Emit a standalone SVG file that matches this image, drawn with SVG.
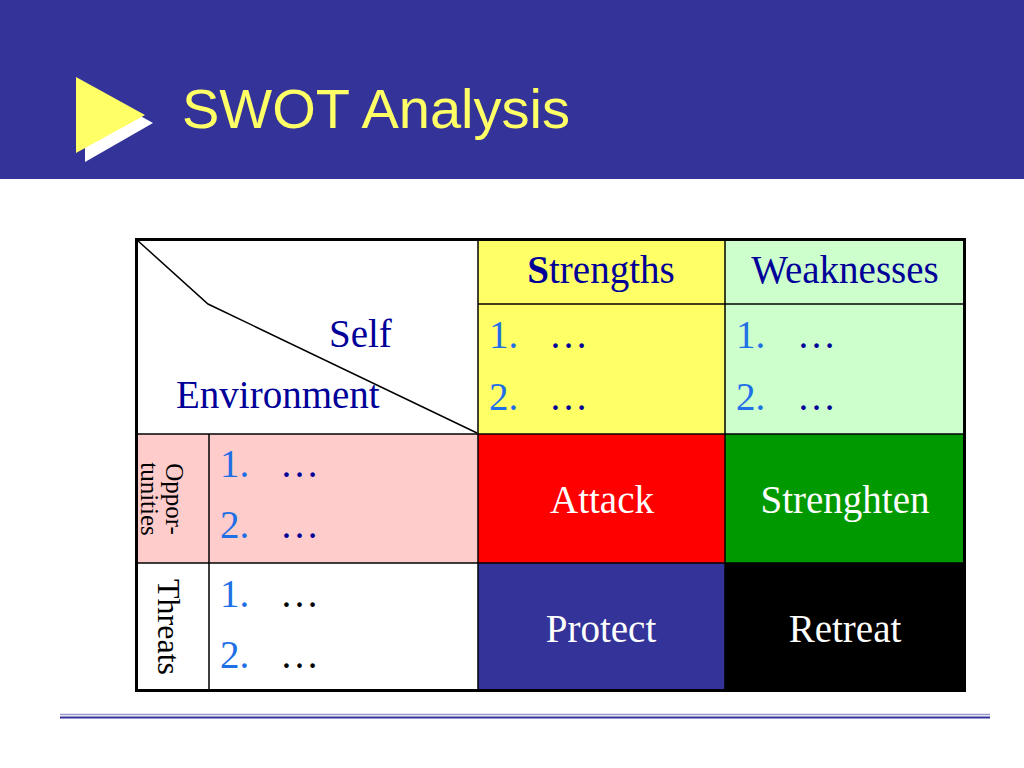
<svg xmlns="http://www.w3.org/2000/svg" width="1024" height="768" viewBox="0 0 1024 768">
<style>
.t{font-family:"Liberation Serif","Times New Roman",serif;font-size:39px;fill:#000099}
.w{font-family:"Liberation Serif","Times New Roman",serif;font-size:39px;fill:#ffffff;text-anchor:middle}
.n{fill:#1f6fe6}
.c{text-anchor:middle}
.ln{stroke:#000;stroke-width:1.5;fill:none}
</style>
<rect x="0" y="0" width="1024" height="768" fill="#ffffff"/>
<g id="header">
<rect x="0" y="0" width="1024" height="179" fill="#333399"/>
<polygon points="85,85 85,162 153,123" fill="#ffffff"/>
<polygon points="76,77 76,153 145,115" fill="#ffff66"/>
<text x="182" y="128" font-family="Liberation Sans, Arial, sans-serif" font-size="56" fill="#ffff66">SWOT Analysis</text>
</g>
<g id="cells">
<rect x="137" y="239" width="341" height="195" fill="#ffffff"/>
<rect x="478" y="239" width="247" height="195" fill="#ffff66"/>
<rect x="725" y="239" width="240" height="195" fill="#ccffcc"/>
<rect x="137" y="434" width="341" height="129" fill="#ffcccc"/>
<rect x="478" y="434" width="247" height="129" fill="#ff0000"/>
<rect x="725" y="434" width="240" height="129" fill="#009900"/>
<rect x="137" y="563" width="341" height="128" fill="#ffffff"/>
<rect x="478" y="563" width="247" height="128" fill="#333399"/>
<rect x="725" y="563" width="240" height="128" fill="#000000"/>
</g>
<g id="grid">
<line class="ln" x1="478" y1="239" x2="478" y2="691"/>
<line class="ln" x1="725" y1="239" x2="725" y2="691"/>
<line class="ln" x1="209" y1="434" x2="209" y2="691"/>
<line class="ln" x1="478" y1="304" x2="965" y2="304"/>
<line class="ln" x1="137" y1="434" x2="965" y2="434"/>
<line class="ln" x1="137" y1="563" x2="965" y2="563"/>
<polyline class="ln" points="137,240 208,304 477,433"/>
<rect x="136.5" y="239.5" width="828" height="451" fill="none" stroke="#000" stroke-width="3"/>
</g>
<g id="corner">
<text class="t" x="329" y="347">Self</text>
<text class="t" x="176" y="408">Environment</text>
</g>
<g id="strengths">
<text class="t c" x="601" y="283"><tspan font-weight="bold">S</tspan>trengths</text>
<text class="t" x="489" y="348"><tspan class="n">1.</tspan><tspan x="549">…</tspan></text>
<text class="t" x="489" y="410"><tspan class="n">2.</tspan><tspan x="549">…</tspan></text>
</g>
<g id="weaknesses">
<text class="t c" x="845" y="283">Weaknesses</text>
<text class="t" x="736" y="348"><tspan class="n">1.</tspan><tspan x="797">…</tspan></text>
<text class="t" x="736" y="410"><tspan class="n">2.</tspan><tspan x="797">…</tspan></text>
</g>
<g id="opportunities">
<text font-family="Liberation Serif, Times New Roman, serif" font-size="25" fill="#000" text-anchor="middle" transform="translate(166,499) rotate(90)"><tspan x="0" y="0">Oppor-</tspan><tspan x="0" y="25">tunities</tspan></text>
<text class="t" x="220" y="477"><tspan class="n">1.</tspan><tspan x="280">…</tspan></text>
<text class="t" x="220" y="538"><tspan class="n">2.</tspan><tspan x="280">…</tspan></text>
</g>
<g id="threats">
<text font-family="Liberation Serif, Times New Roman, serif" font-size="32" fill="#000" text-anchor="middle" transform="translate(158,627) rotate(90)">Threats</text>
<text class="t" x="220" y="607"><tspan class="n">1.</tspan><tspan x="280" fill="#000">…</tspan></text>
<text class="t" x="220" y="668"><tspan class="n">2.</tspan><tspan x="280" fill="#000">…</tspan></text>
</g>
<g id="attack"><text class="w" x="602" y="513">Attack</text></g>
<g id="strenghten"><text class="w" x="845" y="513">Strenghten</text></g>
<g id="protect"><text class="w" x="601" y="642">Protect</text></g>
<g id="retreat"><text class="w" x="845" y="642">Retreat</text></g>
<g id="footer">
<line x1="60" y1="714.5" x2="990" y2="714.5" stroke="#9999cc" stroke-width="1.5"/>
<line x1="60" y1="717.5" x2="990" y2="717.5" stroke="#333399" stroke-width="2"/>
</g>
</svg>
